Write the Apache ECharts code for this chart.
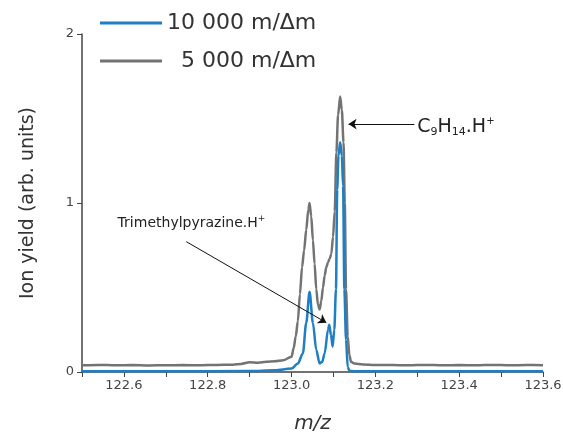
<!DOCTYPE html>
<html>
<head>
    <meta charset="utf-8">
    <title>Ion yield vs m/z</title>
    <script src="https://cdn.jsdelivr.net/npm/echarts@6/dist/echarts.min.js"></script>
    <style>
        html, body { margin: 0; padding: 0; background: #fff; }
        #main { width: 563px; height: 436px; }
    </style>
</head>
<body>
<div id="main"></div>
<script>
    // 5 000 m/Δm spectrum (gray)
    var mzGray = [122.50, 122.54, 122.58, 122.62, 122.66, 122.70, 122.74, 122.78, 122.82, 122.86,
        122.88, 122.90, 122.92, 122.94, 122.96, 122.98, 123.000, 123.005, 123.010, 123.015,
        123.020, 123.025, 123.030, 123.035, 123.040, 123.043, 123.047, 123.051, 123.055, 123.059,
        123.063, 123.067, 123.071, 123.075, 123.079, 123.083, 123.087, 123.091, 123.095, 123.099,
        123.103, 123.107, 123.111, 123.116, 123.120, 123.124, 123.127, 123.130, 123.134, 123.138,
        123.142, 123.15, 123.17, 123.20, 123.24, 123.28, 123.32, 123.36, 123.40, 123.44,
        123.48, 123.52, 123.56, 123.60];
    var ionGray = [0.040, 0.042, 0.040, 0.041, 0.039, 0.040, 0.041, 0.040, 0.042, 0.043,
        0.048, 0.058, 0.055, 0.060, 0.064, 0.070, 0.090, 0.14, 0.21, 0.30,
        0.46, 0.62, 0.72, 0.84, 0.96, 1.00, 0.92, 0.78, 0.64, 0.49,
        0.40, 0.37, 0.42, 0.50, 0.57, 0.62, 0.65, 0.67, 0.70, 0.80,
        0.95, 1.30, 1.52, 1.63, 1.55, 1.36, 1.00, 0.49, 0.21, 0.10,
        0.06, 0.050, 0.045, 0.042, 0.041, 0.040, 0.042, 0.040, 0.041, 0.040,
        0.042, 0.040, 0.041, 0.040];

    // 10 000 m/Δm spectrum (blue)
    var mzBlue = [122.50, 122.70, 122.90, 122.96, 123.000, 123.015, 123.027, 123.035, 123.043, 123.051,
        123.059, 123.067, 123.073, 123.079, 123.087, 123.090, 123.094, 123.098, 123.102, 123.106,
        123.109, 123.112, 123.116, 123.120, 123.123, 123.126, 123.130, 123.134, 123.138, 123.15,
        123.30, 123.45, 123.60];
    var ionBlue = [0.004, 0.004, 0.006, 0.010, 0.020, 0.050, 0.11, 0.29, 0.475, 0.29,
        0.13, 0.05, 0.06, 0.11, 0.25, 0.28, 0.22, 0.15, 0.25, 0.49,
        1.08, 1.28, 1.36, 1.28, 1.10, 0.49, 0.19, 0.03, 0.008, 0.004,
        0.004, 0.004, 0.004];

    var seriesNames = ['10 000 m/\u0394m', '\u20075 000 m/\u0394m'];
    var xTicks = [122.6, 122.8, 123.0, 123.2, 123.4, 123.6];

    function pairs(xs, ys) {
        return xs.map(function (x, i) { return [x, ys[i]]; });
    }

    var FONT = 'DejaVu Sans';
    var chart = echarts.init(document.getElementById('main'), null, {renderer: 'canvas'});

    chart.setOption({
        animation: false,
        backgroundColor: '#fff',
        textStyle: {fontFamily: FONT},
        grid: {left: 82, right: 20, top: 34, bottom: 64, outerBoundsMode: 'none', containLabel: false},
        legend: {
            orient: 'vertical',
            left: 95,
            top: 6,
            icon: 'rect',
            itemWidth: 62,
            itemHeight: 3,
            itemGap: 14,
            data: seriesNames,
            textStyle: {fontFamily: FONT, fontSize: 22, color: '#333', lineHeight: 24}
        },
        xAxis: {
            type: 'value',
            min: 122.5,
            max: 123.6,
            interval: 0.1,
            name: 'm/z',
            nameLocation: 'middle',
            nameGap: 42,
            nameTextStyle: {fontFamily: FONT, fontSize: 20, fontStyle: 'italic', color: '#333'},
            axisLine: {lineStyle: {color: '#444', width: 1.5}},
            axisTick: {show: true, inside: false, length: 5, lineStyle: {color: '#444'}},
            axisLabel: {
                fontSize: 13, color: '#444', margin: 7,
                formatter: function (v) {
                    var r = Math.round(v * 10) / 10;
                    return xTicks.indexOf(r) >= 0 ? r.toFixed(1) : '';
                }
            },
            splitLine: {show: false}
        },
        yAxis: {
            type: 'value',
            min: 0,
            max: 2,
            interval: 1,
            name: 'Ion yield (arb. units)',
            nameLocation: 'middle',
            nameGap: 44,
            nameTextStyle: {fontFamily: FONT, fontSize: 19, color: '#333'},
            axisLine: {show: true, lineStyle: {color: '#444', width: 1.5}},
            axisTick: {show: true, inside: false, length: 5, lineStyle: {color: '#444'}},
            axisLabel: {fontSize: 13, color: '#444', margin: 8},
            splitLine: {show: false}
        },
        series: [
            {
                name: seriesNames[1],
                type: 'line',
                data: pairs(mzGray, ionGray),
                symbol: 'none',
                smooth: 0.3,
                smoothMonotone: 'x',
                z: 2,
                lineStyle: {color: '#737373', width: 2.5},
                itemStyle: {color: '#737373'},
                markLine: {
                    silent: true,
                    symbol: ['none', 'arrow'],
                    symbolSize: 8,
                    label: {show: false},
                    lineStyle: {color: '#111', width: 1, type: 'solid'},
                    data: [
                        [{coord: [123.293, 1.467]}, {coord: [123.136, 1.467]}],
                        [{coord: [122.749, 0.771]}, {coord: [123.083, 0.292]}]
                    ]
                }
            },
            {
                name: seriesNames[0],
                type: 'line',
                data: pairs(mzBlue, ionBlue),
                symbol: 'none',
                smooth: 0.3,
                smoothMonotone: 'x',
                z: 3,
                lineStyle: {color: '#1f7fc4', width: 2.5},
                itemStyle: {color: '#1f7fc4'}
            }
        ]
    });

    // annotation texts, positioned in data space
    var pC = chart.convertToPixel({gridIndex: 0}, [123.300, 1.450]);
    var pT = chart.convertToPixel({gridIndex: 0}, [122.585, 0.875]);
    chart.setOption({
        graphic: [
            {
                type: 'text',
                x: pC[0], y: pC[1],
                style: {
                    text: '{m|C}{s|9}{m|H}{s|14}{m|.H}{p|+}',
                    verticalAlign: 'middle',
                    rich: {
                        m: {fontFamily: FONT, fontSize: 19, fill: '#222', lineHeight: 22, verticalAlign: 'top', padding: [2, 0, 0, 0]},
                        s: {fontFamily: FONT, fontSize: 11, fill: '#222', lineHeight: 11, verticalAlign: 'bottom', padding: [14, 0, 0, 0]},
                        p: {fontFamily: FONT, fontSize: 10, fill: '#222', lineHeight: 10, verticalAlign: 'top', padding: [0, 0, 14, 0]}
                    }
                }
            },
            {
                type: 'text',
                x: pT[0], y: pT[1],
                style: {
                    text: '{m|Trimethylpyrazine.H}{p|+}',
                    verticalAlign: 'middle',
                    rich: {
                        m: {fontFamily: FONT, fontSize: 14, fill: '#222', lineHeight: 20, verticalAlign: 'top', padding: [2, 0, 0, 0]},
                        p: {fontFamily: FONT, fontSize: 9, fill: '#222', lineHeight: 9, verticalAlign: 'top', padding: [0, 0, 12, 0]}
                    }
                }
            }
        ]
    });
</script>
</body>
</html>
